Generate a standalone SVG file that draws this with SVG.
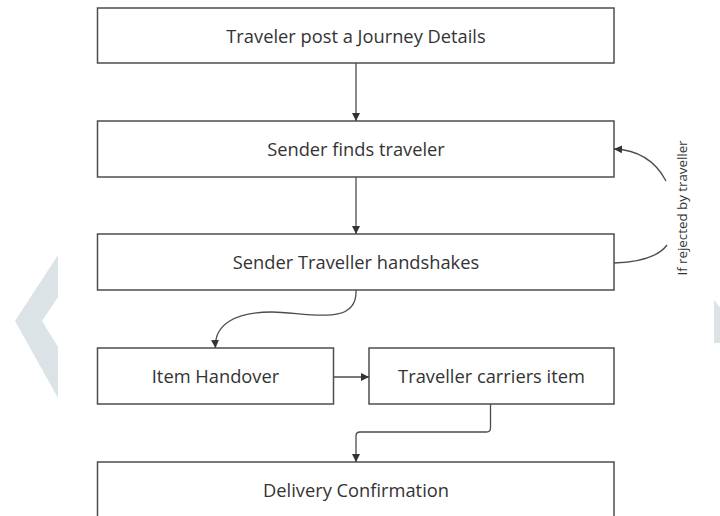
<svg xmlns="http://www.w3.org/2000/svg" width="720" height="516" viewBox="0 0 720 516">
<style>
.box{fill:#ffffff;stroke:#4d4d4d;stroke-width:1.5}
.lbl{font-family:"Open Sans","Noto Sans",sans-serif;font-size:18.3px;fill:#333333;text-anchor:middle}
.edge{fill:none;stroke:#4d4d4d;stroke-width:1.3}
.wm{fill:#dce3e7}
.note{font-family:"Open Sans","Noto Sans",sans-serif;font-size:13.3px;fill:#333333;text-anchor:middle}
</style>
<defs>
<marker id="arr" viewBox="0 0 10 10" refX="10" refY="5" markerWidth="8" markerHeight="8" markerUnits="userSpaceOnUse" orient="auto">
<path d="M0,0 L10,5 L0,10 Z" fill="#333333"/>
</marker>
</defs>
<rect width="720" height="516" fill="#ffffff"/>
<polygon class="wm" points="58,255 15,321 58,398 58,347 42,321 58,297"/>
<polygon class="wm" points="714,300 722,310 722,343 714,343"/>
<g id="n1"><rect class="box" x="97.5" y="8" width="516.5" height="55"/><text class="lbl" x="356" y="42.5">Traveler post a Journey Details</text></g>
<g id="n2"><rect class="box" x="97.5" y="121" width="516.5" height="56"/><text class="lbl" x="356" y="156">Sender finds traveler</text></g>
<g id="n3"><rect class="box" x="97.5" y="234" width="516.5" height="56"/><text class="lbl" x="356" y="269">Sender Traveller handshakes</text></g>
<g id="n4"><rect class="box" x="97.5" y="348" width="236" height="56"/><text class="lbl" x="215.5" y="383">Item Handover</text></g>
<g id="n5"><rect class="box" x="369" y="348" width="245" height="56"/><text class="lbl" x="491.5" y="383">Traveller carriers item</text></g>
<g id="n6"><rect class="box" x="97.5" y="462" width="516.5" height="60"/><text class="lbl" x="356" y="497">Delivery Confirmation</text></g>
<g id="edges">
<line class="edge" x1="356" y1="63" x2="356" y2="121" marker-end="url(#arr)"/>
<line class="edge" x1="356" y1="177" x2="356" y2="234" marker-end="url(#arr)"/>
<path class="edge" d="M356,290 C358,328 305,312 272,312 C236,312 214,324 215.5,348" marker-end="url(#arr)"/>
<line class="edge" x1="333.5" y1="377" x2="369" y2="377" marker-end="url(#arr)"/>
<path class="edge" d="M490.5,404 L490.5,428 Q490.5,432 486.5,432 L360,432 Q356,432 356,436 L356,462" marker-end="url(#arr)"/>
<path class="edge" d="M614,263 C642,262 659,256 667,245"/>
<path class="edge" d="M666,181 C656,162 640,150 614,149" marker-end="url(#arr)"/>
<text class="note" x="0" y="0" transform="translate(687,208) rotate(-90)">If rejected by traveller</text>
</g>
</svg>
